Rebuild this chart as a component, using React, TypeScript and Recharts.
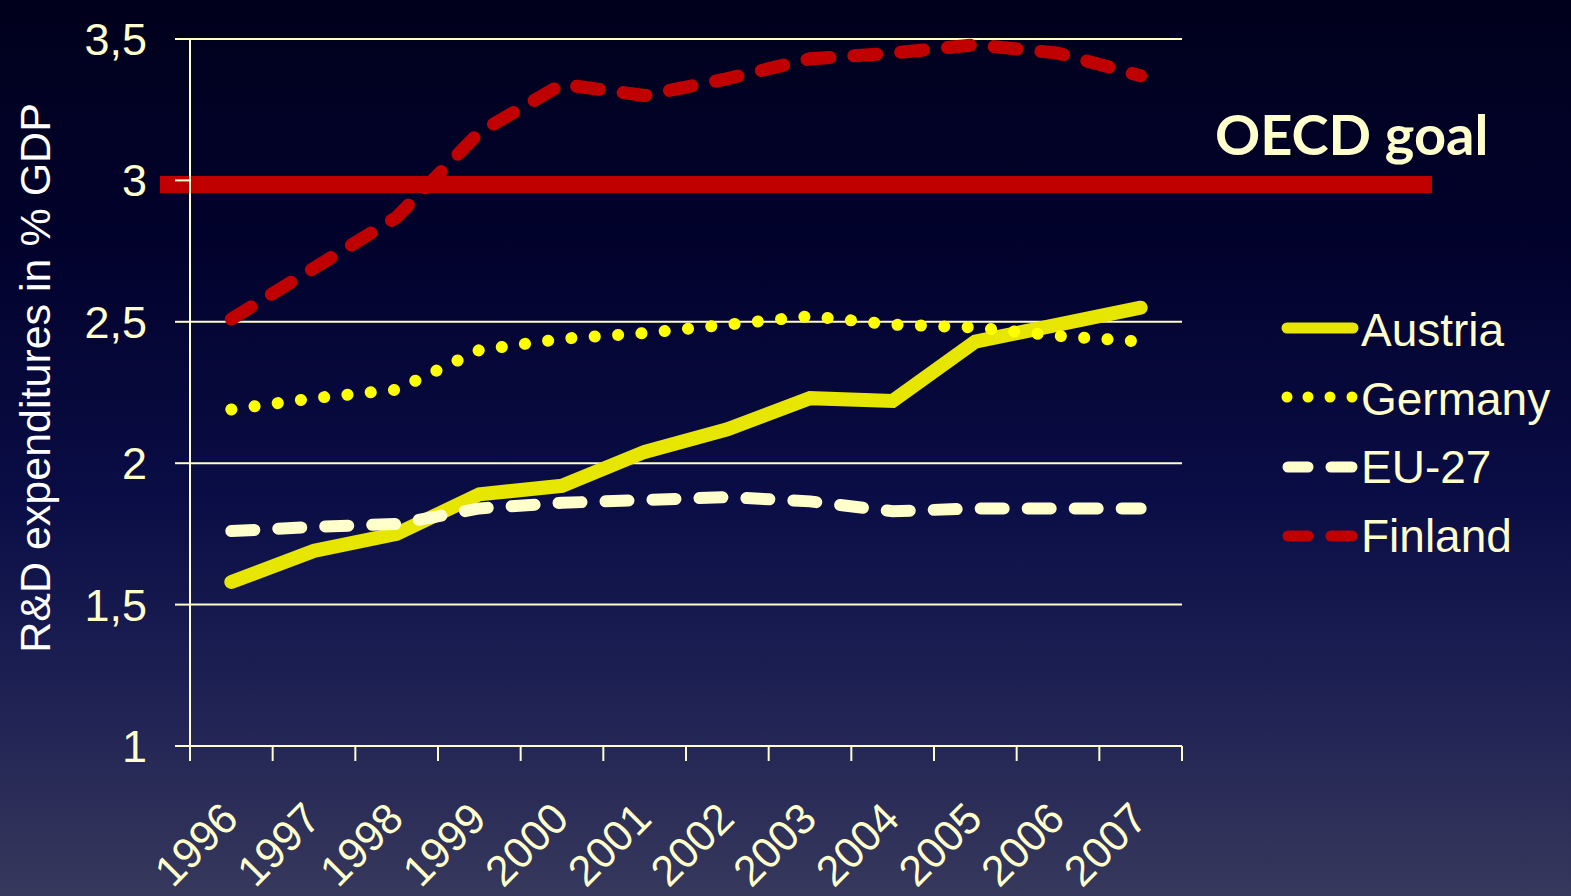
import React from 'react';
import { LineChart, Line, XAxis, YAxis, CartesianGrid, ReferenceLine } from 'recharts';

const years = ['1996', '1997', '1998', '1999', '2000', '2001', '2002', '2003', '2004', '2005', '2006', '2007'];
const austria = [1.58, 1.69, 1.75, 1.89, 1.92, 2.04, 2.12, 2.23, 2.22, 2.43, 2.49, 2.55];
const germany = [2.19, 2.23, 2.26, 2.4, 2.44, 2.46, 2.49, 2.52, 2.49, 2.48, 2.45, 2.43];
const eu27 = [1.76, 1.775, 1.785, 1.84, 1.86, 1.87, 1.88, 1.865, 1.83, 1.84, 1.84, 1.84];
const finland = [2.51, 2.69, 2.87, 3.17, 3.34, 3.3, 3.36, 3.43, 3.45, 3.48, 3.45, 3.37];
const yTicks = [1, 1.5, 2, 2.5, 3, 3.5];
const oecdGoal = 3;
const seriesNames = ['Austria', 'Germany', 'EU-27', 'Finland'];

const data = years.map((year, i) => ({
  year,
  Austria: austria[i],
  Germany: germany[i],
  'EU-27': eu27[i],
  Finland: finland[i],
}));

const CREAM = '#ffffcc';
const AUSTRIA_C = '#e6e600';
const GERMANY_C = '#ffff00';
const EU_C = '#ffffcc';
const FIN_C = '#c00000';
const FONT = '"Liberation Sans", Arial, sans-serif';

const XTick = (props: any) => {
  const { x, y, payload, index, visibleTicksCount } = props;
  const off = payload.offset || 0;
  const px = x + 9;
  const py = y + 75;
  return (
    <g>
      <line x1={x - off} x2={x - off} y1={y} y2={y + 15} stroke={CREAM} strokeWidth={2} />
      {index === visibleTicksCount - 1 && (
        <line x1={x + off} x2={x + off} y1={y} y2={y + 15} stroke={CREAM} strokeWidth={2} />
      )}
      <text
        x={px}
        y={py}
        transform={`rotate(-45, ${px}, ${py})`}
        textAnchor="end"
        fill={CREAM}
        fontSize={43}
        fontFamily={FONT}
      >
        {payload.value}
      </text>
    </g>
  );
};

const OecdShape = (props: any) => {
  const { x1, x2, y1, y2 } = props;
  return (
    <line x1={x1 - 30} x2={x2 + 250} y1={y1 + 4} y2={y2 + 4} stroke={FIN_C} strokeWidth={17} />
  );
};

const legendRows = [
  { name: seriesNames[0], color: AUSTRIA_C, kind: 'solid', cy: 328, base: 346 },
  { name: seriesNames[1], color: GERMANY_C, kind: 'dot', cy: 397, base: 415 },
  { name: seriesNames[2], color: EU_C, kind: 'dash', cy: 467, base: 483 },
  { name: seriesNames[3], color: FIN_C, kind: 'dash', cy: 536, base: 552 },
];

export default function App() {
  return (
    <div
      style={{
        position: 'fixed',
        left: 0,
        top: 0,
        width: 1571,
        height: 896,
        overflow: 'hidden',
        background:
          'linear-gradient(to bottom, #00001c 0%, #02032e 30%, #0a0d45 55%, #1c1f52 75%, #36385c 100%)',
      }}
    >
      <LineChart
        width={1571}
        height={896}
        data={data}
        margin={{ top: 39, right: 389, bottom: 10, left: 80 }}
      >
        <CartesianGrid vertical={false} stroke={CREAM} strokeWidth={2} />
        <XAxis
          dataKey="year"
          scale="band"
          interval={0}
          tickLine={false}
          tickSize={0}
          tickMargin={0}
          height={140}
          axisLine={{ stroke: CREAM, strokeWidth: 2 }}
          tick={<XTick />}
        />
        <YAxis
          type="number"
          domain={[1, 3.5]}
          ticks={yTicks}
          width={110}
          tickSize={15}
          tickMargin={28}
          axisLine={{ stroke: CREAM, strokeWidth: 2 }}
          tickLine={{ stroke: CREAM, strokeWidth: 2 }}
          tick={{ fill: CREAM, fontSize: 45, fontFamily: FONT }}
          tickFormatter={(v: number) => String(v).replace('.', ',')}
        />
        <Line
          dataKey="Austria"
          stroke={AUSTRIA_C}
          strokeWidth={14}
          strokeLinecap="round"
          dot={false}
          activeDot={false}
          isAnimationActive={false}
        />
        <Line
          dataKey="Germany"
          stroke={GERMANY_C}
          strokeWidth={12}
          strokeLinecap="round"
          strokeDasharray="0.1 23.3"
          dot={false}
          activeDot={false}
          isAnimationActive={false}
        />
        <Line
          dataKey="EU-27"
          stroke={EU_C}
          strokeWidth={12}
          strokeLinecap="round"
          strokeDasharray="23 24"
          dot={false}
          activeDot={false}
          isAnimationActive={false}
        />
        <ReferenceLine y={oecdGoal} shape={<OecdShape />} />
        <Line
          dataKey="Finland"
          stroke={FIN_C}
          strokeWidth={13}
          strokeLinecap="round"
          strokeDasharray="23 24"
          dot={false}
          activeDot={false}
          isAnimationActive={false}
        />
      </LineChart>
      <svg
        width={1571}
        height={896}
        style={{ position: 'absolute', left: 0, top: 0, pointerEvents: 'none' }}
      >
        <text
          x={50}
          y={378}
          transform="rotate(-90, 50, 378)"
          textAnchor="middle"
          fill="#ffffff"
          fontSize={43}
          fontFamily={FONT}
        >
          R&amp;D expenditures in % GDP
        </text>
        <text
          x={1215}
          y={155}
          fill={CREAM}
          fontSize={56}
          fontWeight="bold"
          fontFamily='Lato, "Open Sans", sans-serif'
        >
          OECD goal
        </text>
        {legendRows.map((r) => (
          <g key={r.name}>
            {r.kind === 'solid' && (
              <line x1={1287} x2={1353} y1={r.cy} y2={r.cy} stroke={r.color} strokeWidth={11} strokeLinecap="round" />
            )}
            {r.kind === 'dot' &&
              [1287, 1308, 1330, 1352].map((cx) => <circle key={cx} cx={cx} cy={r.cy} r={5.5} fill={r.color} />)}
            {r.kind === 'dash' && (
              <g>
                <line x1={1288} x2={1308} y1={r.cy} y2={r.cy} stroke={r.color} strokeWidth={11} strokeLinecap="round" />
                <line x1={1331} x2={1352} y1={r.cy} y2={r.cy} stroke={r.color} strokeWidth={11} strokeLinecap="round" />
              </g>
            )}
            <text x={1361} y={r.base} fill={CREAM} fontSize={46} fontFamily={FONT}>
              {r.name}
            </text>
          </g>
        ))}
      </svg>
    </div>
  );
}
